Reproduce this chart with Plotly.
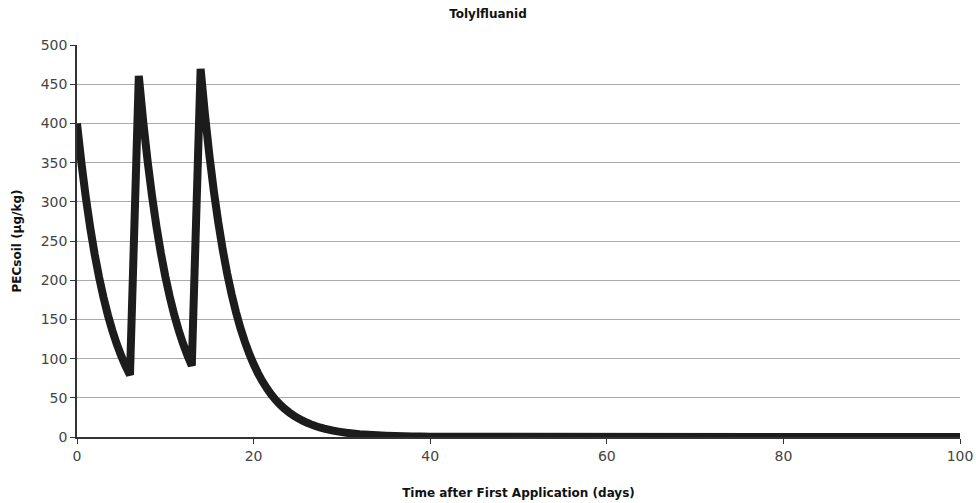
import plotly.graph_objects as go

days = [0, 0.5, 1, 1.5, 2, 2.5, 3, 3.5, 4, 4.5, 5, 5.5, 6,
        7, 7.5, 8, 8.5, 9, 9.5, 10, 10.5, 11, 11.5, 12, 12.5, 13,
        14, 14.5, 15, 15.5, 16, 16.5, 17, 17.5, 18, 18.5, 19, 19.5, 20,
        20.5, 21, 21.5, 22, 22.5, 23, 23.5, 24, 24.5, 25, 25.5, 26,
        26.5, 27, 27.5, 28, 28.5, 29, 29.5, 30, 30.5, 31, 31.5, 32,
        33, 34, 35, 36, 37, 38, 39, 40, 100]
pec_soil = [400.0, 349.5, 305.4, 266.8, 233.1, 203.7, 178.0, 155.5, 135.9, 118.7, 103.7, 90.6, 79.2,
            460.5, 402.3, 351.5, 307.1, 268.3, 234.4, 204.9, 179.0, 156.4, 136.6, 119.4, 104.3, 91.1,
            469.6, 410.3, 358.5, 313.2, 273.7, 239.1, 208.9, 182.5, 159.5, 139.3, 121.8, 106.4, 93.0,
            81.2, 71.0, 62.0, 54.2, 47.3, 41.4, 36.1, 31.6, 27.6, 24.1, 21.1, 18.4,
            16.1, 14.0, 12.2, 10.7, 9.4, 8.2, 7.1, 6.2, 5.4, 4.8, 4.2, 3.6,
            2.8, 2.1, 1.6, 1.2, 0.9, 0.7, 0.5, 0.4, 0.0]

x_ticks = [0, 20, 40, 60, 80, 100]
y_ticks = [0, 50, 100, 150, 200, 250, 300, 350, 400, 450, 500]

fig = go.Figure()
fig.add_trace(go.Scatter(x=days, y=pec_soil, mode="lines",
                         line=dict(color="#1c1c1c", width=8, simplify=False),
                         showlegend=False))

font_family = "DejaVu Sans, Liberation Sans, Arial, sans-serif"
fig.update_layout(
    width=976, height=503,
    margin=dict(l=77, r=16, t=45, b=66),
    paper_bgcolor="white", plot_bgcolor="white",
    title=dict(text="<b>Tolylfluanid</b>", x=0.5, xanchor="center", y=0.972, yanchor="middle",
               font=dict(family=font_family, size=12, color="#111")),
    font=dict(family=font_family, size=14, color="#444"),
    xaxis=dict(range=[0, 100], tickvals=x_ticks, ticks="outside", ticklen=5, tickcolor="#333",
               showline=True, linecolor="#333", linewidth=1.5, showgrid=False, zeroline=False,
               automargin=False, tickfont=dict(size=14, color="#444"),
               title=dict(text="<b>Time after First Application (days)</b>", standoff=26,
                          font=dict(family=font_family, size=12, color="#111"))),
    yaxis=dict(range=[0, 500], tickvals=y_ticks, ticks="outside", ticklen=5, tickcolor="#333",
               showline=True, linecolor="#333", linewidth=1.5, showgrid=True, gridcolor="#aaaaaa",
               gridwidth=1, zeroline=False, automargin=False, tickfont=dict(size=14, color="#444"),
               title=dict(text="<b>PECsoil (µg/kg)</b>", standoff=17,
                          font=dict(family=font_family, size=12, color="#111"))),
)

fig.write_html("out.html")
